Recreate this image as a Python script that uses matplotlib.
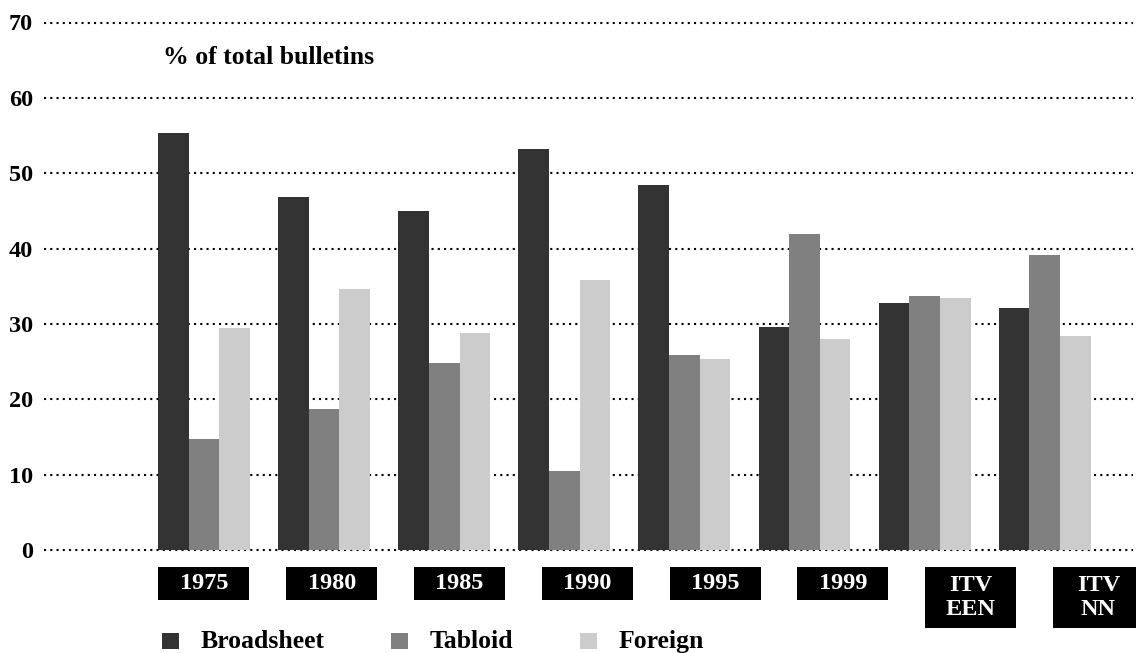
#!/usr/bin/env python3
import matplotlib
matplotlib.use("Agg")
import matplotlib.pyplot as plt
from matplotlib.patches import Rectangle
import numpy as np

CATEGORIES = ["1975", "1980", "1985", "1990", "1995", "1999", "ITV\nEEN", "ITV\nNN"]
BROADSHEET = [55.4, 46.9, 45.0, 53.2, 48.4, 29.6, 32.8, 32.1]
TABLOID = [14.7, 18.7, 24.8, 10.5, 25.9, 41.9, 33.7, 39.1]
FOREIGN = [29.4, 34.6, 28.8, 35.8, 25.3, 28.0, 33.4, 28.4]
SERIES = ["Broadsheet", "Tabloid", "Foreign"]
COLORS = ["#333333", "#808080", "#cccccc"]
YTICKS = [0, 10, 20, 30, 40, 50, 60, 70]

FONT = "Liberation Serif"
BAR_W = 0.255
LABEL_STRETCH = 1.064  # category boxes are spaced a bit wider than the bar groups

fig = plt.figure(figsize=(11.36, 6.53), dpi=100)
ax = fig.add_axes([44 / 1136, 103 / 653, (1133 - 44) / 1136, 527.5 / 653])

x = np.arange(len(CATEGORIES))
for k, (vals, name, col) in enumerate(zip([BROADSHEET, TABLOID, FOREIGN], SERIES, COLORS)):
    ax.bar(x + (k - 1) * BAR_W, vals, width=BAR_W, color=col, linewidth=0, zorder=3, label=name)

for yv in YTICKS:
    ax.axhline(yv, color="black", linewidth=1.5, linestyle=(0, (1, 2)), zorder=1, clip_on=False)

ax.set_xlim(-1.332, 7.735)
ax.set_ylim(0, 70)
ax.set_yticks(YTICKS)
ax.set_yticklabels([str(v) for v in YTICKS], fontfamily=FONT, fontweight="bold", fontsize=17.5)
ax.tick_params(axis="y", length=0, pad=8)
ax.set_xticks([])
for s in ax.spines.values():
    s.set_visible(False)

# black category boxes under the groups
trans = ax.get_xaxis_transform()
box_w = 91 / 120.1
for i, lab in enumerate(CATEGORIES):
    cx = i * LABEL_STRETCH
    two = "\n" in lab
    top = -17 / 527.5
    bot = -78 / 527.5 if two else -50 / 527.5
    ax.add_patch(Rectangle((cx - box_w / 2, bot), box_w, top - bot, transform=trans,
                           facecolor="black", edgecolor="none", clip_on=False, zorder=4))
    ax.text(cx, (top + bot) / 2, lab, transform=trans, ha="center", va="center",
            color="white", fontfamily=FONT, fontweight="bold", fontsize=17.5,
            linespacing=1.2, zorder=5, clip_on=False)

fig.text(163 / 1136, 1 - 64 / 653, "% of total bulletins", ha="left", va="baseline",
         fontfamily=FONT, fontweight="bold", fontsize=18.5)

# legend row
leg_x = [162, 391, 580]
for px, name, col in zip(leg_x, SERIES, COLORS):
    fig.patches.append(Rectangle((px / 1136, (653 - 649) / 653), 17 / 1136, 16 / 653,
                                 transform=fig.transFigure, facecolor=col, edgecolor="none"))
    fig.text((px + 39) / 1136, 1 - 648 / 653, name, ha="left", va="baseline",
             fontfamily=FONT, fontweight="bold", fontsize=18.5)

fig.savefig("out.png", dpi=100)
